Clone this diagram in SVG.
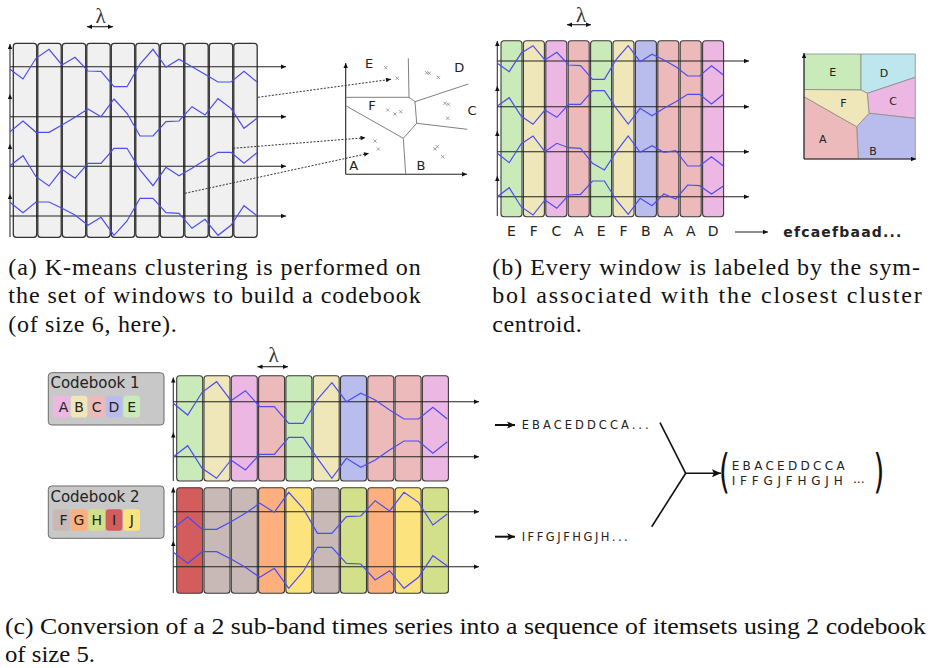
<svg xmlns="http://www.w3.org/2000/svg" xmlns:xlink="http://www.w3.org/1999/xlink" width="930" height="668" viewBox="0 0 930 668">
<style>
.win{stroke:#3a3a3a;stroke-width:1.1}
.wa{fill:#f0f0f0;stroke:#333;stroke-width:1.3}
.ser{fill:none;stroke:#4c4cf2;stroke-width:1.2}
.ax{stroke:#222;stroke-width:1.1;fill:none}
.axv{stroke:#333;stroke-width:1.1;fill:none}
.vor{stroke:#808080;stroke-width:1;fill:none}
.vreg{stroke:#8a8a8a;stroke-width:0.8}
.lab{font-family:"DejaVu Sans",sans-serif;fill:#222}
.lam{font-family:'Liberation Serif','DejaVu Serif',serif;font-size:21px;fill:#333;text-anchor:middle}
.cap{font-family:'Liberation Serif','Times New Roman',serif;font-size:24px;fill:#111}
.dot{stroke:#333;stroke-width:1;stroke-dasharray:2 1.5;fill:none}
.cb{fill:#c8c8c8;stroke:#6a6a6a;stroke-width:1}
.chip{stroke:none}
.gE{fill:#c9ebb9}.gF{fill:#efe6ba}.gC{fill:#ecb7e2}.gA{fill:#ecbaba}.gB{fill:#b9bdee}.gD{fill:#bde6ee}
.hF{fill:#c8b8b6}.hG{fill:#fdb07e}.hH{fill:#d3e08b}.hI{fill:#d35c5c}.hJ{fill:#fde37d}
</style>
<defs>
<marker id="ah" viewBox="0 0 10 10" refX="10" refY="5" markerWidth="6" markerHeight="5" markerUnits="userSpaceOnUse" orient="auto"><path d="M0,0.5 L10,5 L0,9.5 z" fill="#111"/></marker>
<marker id="ahs" viewBox="0 0 10 10" refX="10" refY="5" markerWidth="6" markerHeight="5" markerUnits="userSpaceOnUse" orient="auto-start-reverse"><path d="M0,0.5 L10,5 L0,9.5 z" fill="#111"/></marker>
<marker id="ahb" viewBox="0 0 10 10" refX="10" refY="5" markerWidth="12" markerHeight="9" markerUnits="userSpaceOnUse" orient="auto"><path d="M0,0.5 L10,5 L0,9.5 L2,5 z" fill="#111"/></marker>
<marker id="ahm" viewBox="0 0 10 10" refX="10" refY="5" markerWidth="10" markerHeight="8" markerUnits="userSpaceOnUse" orient="auto"><path d="M0,0.5 L10,5 L0,9.5 L2.5,5 z" fill="#111"/></marker>
<path id="cx" d="M-1.6,-1.6 L1.6,1.6 M1.6,-1.6 L-1.6,1.6" stroke="#8a8a8a" stroke-width="0.8" fill="none"/>
</defs>
<rect x="0" y="0" width="930" height="668" fill="#fff"/>

<!-- Panel (a) -->
<g id="panel-a">
  <text class="lam" x="100.5" y="22.5">λ</text>
  <line class="ax" x1="87" y1="26.7" x2="113" y2="26.7" marker-start="url(#ahs)" marker-end="url(#ahs)"/>
  <g id="a-windows">
    <rect class="wa" x="13.3" y="43.3" width="23.4" height="194" rx="3"/>
    <rect class="wa" x="37.8" y="43.3" width="23.4" height="194" rx="3"/>
    <rect class="wa" x="62.3" y="43.3" width="23.4" height="194" rx="3"/>
    <rect class="wa" x="86.8" y="43.3" width="23.4" height="194" rx="3"/>
    <rect class="wa" x="111.3" y="43.3" width="23.4" height="194" rx="3"/>
    <rect class="wa" x="135.8" y="43.3" width="23.4" height="194" rx="3"/>
    <rect class="wa" x="160.3" y="43.3" width="23.4" height="194" rx="3"/>
    <rect class="wa" x="184.8" y="43.3" width="23.4" height="194" rx="3"/>
    <rect class="wa" x="209.3" y="43.3" width="23.4" height="194" rx="3"/>
    <rect class="wa" x="233.8" y="43.3" width="23.4" height="194" rx="3"/>
  </g>
  <g id="a-axes">
    <line class="axv" x1="10" y1="94" x2="10" y2="44" marker-end="url(#ah)"/>
    <line class="axv" x1="10" y1="144" x2="10" y2="94" marker-end="url(#ah)"/>
    <line class="axv" x1="10" y1="194" x2="10" y2="144" marker-end="url(#ah)"/>
    <line class="axv" x1="10" y1="237" x2="10" y2="194" marker-end="url(#ah)"/>
    <line class="ax" x1="10" y1="66.7" x2="286" y2="66.7" marker-end="url(#ah)"/>
    <line class="ax" x1="10" y1="116.7" x2="286" y2="116.7" marker-end="url(#ah)"/>
    <line class="ax" x1="10" y1="166.3" x2="286" y2="166.3" marker-end="url(#ah)"/>
    <line class="ax" x1="10" y1="216" x2="286" y2="216" marker-end="url(#ah)"/>
  </g>
  <g id="a-series">
    <polyline class="ser" points="10,69.3 23,79 36,58.3 49,49.3 62,65 75,57.3 88,71 101,71.3 114,86.7 127,86.7 140,64 153,49.3 166,67.3 179,59.3 192,66.7 205,74.3 218,82 231,82 244,71.3 257,82"/>
    <polyline class="ser" points="10,131.7 23,121 36,132.3 49,132.3 62,125 75,117.3 88,109 101,116.7 114,99 127,113.3 140,136 153,136 166,121.7 179,121 192,106.7 205,115 218,98.7 231,108.3 244,128.3 257,118.3"/>
    <polyline class="ser" points="10,165.7 23,155.7 36,176.7 49,186 62,169.3 75,178.3 88,163.3 101,163.3 114,148.3 127,148.3 140,170 153,185.7 166,167.3 179,175.7 192,168.3 205,160 218,152.3 231,152.3 244,163.3 257,152.7"/>
    <polyline class="ser" points="10,202.3 23,212.7 36,202 49,202 62,208.3 75,215 88,225.3 101,217.3 114,235.3 127,221 140,198.3 153,198.3 166,212.7 179,213.3 192,228.3 205,219.3 218,235.3 231,225.3 244,205.7 257,215.7"/>
  </g>
</g>

<!-- Scatter / Voronoi (a) -->
<g id="scatter-a">
  <line class="ax" x1="345.7" y1="174.3" x2="345.7" y2="63" marker-end="url(#ah)"/>
  <line class="ax" x1="345.7" y1="174.3" x2="467" y2="174.3" marker-end="url(#ah)"/>
  <path class="vor" d="M345.7,97.3 L409,97.3 L408.3,58.3 M409,97.3 L415,101.7 L468.3,84 M415,101.7 L416.7,123.3 L467.3,129.3 M416.7,123.3 L403.3,138.3 L345.7,105.7 M403.3,138.3 L405.7,174.3"/>
  <g>
    <use href="#cx" x="385.7" y="67.7"/><use href="#cx" x="397.3" y="78.3"/>
    <use href="#cx" x="426.7" y="72.7"/><use href="#cx" x="429.3" y="73.3"/><use href="#cx" x="438.3" y="77.3"/>
    <use href="#cx" x="445" y="103.3"/><use href="#cx" x="448.3" y="104.3"/><use href="#cx" x="447.7" y="118.3"/>
    <use href="#cx" x="387.7" y="110"/><use href="#cx" x="395" y="114"/><use href="#cx" x="400.7" y="111.7"/>
    <use href="#cx" x="375" y="141"/><use href="#cx" x="378.3" y="149"/>
    <use href="#cx" x="435" y="149"/><use href="#cx" x="437.3" y="146.7"/><use href="#cx" x="442.7" y="156.7"/>
  </g>
  <g class="lab" font-size="13" text-anchor="middle">
    <text x="369" y="68">E</text>
    <text x="459.3" y="71.7">D</text>
    <text x="372" y="109.7">F</text>
    <text x="472" y="114.7">C</text>
    <text x="353.7" y="169.7">A</text>
    <text x="421" y="169.7">B</text>
  </g>
</g>

<!-- Panel (b) -->
<g id="panel-b">
  <text class="lam" x="581" y="21.5">λ</text>
  <line class="ax" x1="567" y1="24.7" x2="591" y2="24.7" marker-start="url(#ahs)" marker-end="url(#ahs)"/>
  <g id="b-windows">
    <rect class="win gE" x="501" y="40.7" width="21" height="176" rx="3"/>
    <rect class="win gF" x="523.4" y="40.7" width="21" height="176" rx="3"/>
    <rect class="win gC" x="545.8" y="40.7" width="21" height="176" rx="3"/>
    <rect class="win gA" x="568.2" y="40.7" width="21" height="176" rx="3"/>
    <rect class="win gE" x="590.6" y="40.7" width="21" height="176" rx="3"/>
    <rect class="win gF" x="613" y="40.7" width="21" height="176" rx="3"/>
    <rect class="win gB" x="635.4" y="40.7" width="21" height="176" rx="3"/>
    <rect class="win gA" x="657.8" y="40.7" width="21" height="176" rx="3"/>
    <rect class="win gA" x="680.2" y="40.7" width="21" height="176" rx="3"/>
    <rect class="win gC" x="702.6" y="40.7" width="21" height="176" rx="3"/>
  </g>
  <g id="b-axes">
    <line class="axv" x1="497.3" y1="87" x2="497.3" y2="41" marker-end="url(#ah)"/>
    <line class="axv" x1="497.3" y1="132" x2="497.3" y2="86" marker-end="url(#ah)"/>
    <line class="axv" x1="497.3" y1="177" x2="497.3" y2="131" marker-end="url(#ah)"/>
    <line class="axv" x1="497.3" y1="216" x2="497.3" y2="176" marker-end="url(#ah)"/>
    <line class="ax" x1="497.3" y1="61" x2="749" y2="61" marker-end="url(#ah)"/>
    <line class="ax" x1="497.3" y1="106.7" x2="749" y2="106.7" marker-end="url(#ah)"/>
    <line class="ax" x1="497.3" y1="151.7" x2="749" y2="151.7" marker-end="url(#ah)"/>
    <line class="ax" x1="497.3" y1="196.7" x2="749" y2="196.7" marker-end="url(#ah)"/>
  </g>
  <g id="b-series">
    <polyline class="ser" points="497.3,63.3 509.2,71.7 521.1,53.3 533,45.7 544.9,60 556.8,52.3 568.7,65 580.6,65.7 592.5,79.3 604.4,79.3 616.3,59.3 628.2,45.7 640.1,61.7 652,54.3 663.9,60 675.8,66.7 687.7,76 699.6,76 711.5,65.7 723.4,75"/>
    <polyline class="ser" points="497.3,106 509.2,97.7 521.1,116 533,124.3 544.9,110 556.8,117.3 568.7,104.3 580.6,104.3 592.5,90.7 604.4,90.7 616.3,108.3 628.2,124 640.1,108.3 652,115.7 663.9,108.3 675.8,101.7 687.7,94.3 699.6,94.3 711.5,104 723.4,94.3"/>
    <polyline class="ser" points="497.3,153.3 509.2,162.7 521.1,144 533,136 544.9,151.7 556.8,143.3 568.7,147.7 580.6,148.3 592.5,163.3 604.4,170 616.3,151.7 628.2,136 640.1,152.3 652,145.7 663.9,152.3 675.8,150.7 687.7,166 699.6,166 711.5,156.7 723.4,166"/>
    <polyline class="ser" points="497.3,196.7 509.2,187.7 521.1,206.7 533,215 544.9,200 556.8,208.3 568.7,195 580.6,194.3 592.5,181 604.4,181 616.3,200 628.2,214.3 640.1,198.3 652,205.7 663.9,194 675.8,199 687.7,185 699.6,185.7 711.5,194 723.4,186"/>
  </g>
  <g class="lab" font-size="14" text-anchor="middle">
    <text x="511.5" y="236">E</text>
    <text x="533.9" y="236">F</text>
    <text x="556.3" y="236">C</text>
    <text x="578.7" y="236">A</text>
    <text x="601.1" y="236">E</text>
    <text x="623.5" y="236">F</text>
    <text x="645.9" y="236">B</text>
    <text x="668.3" y="236">A</text>
    <text x="690.7" y="236">A</text>
    <text x="713.1" y="236">D</text>
  </g>
  <line class="ax" x1="735" y1="232" x2="768" y2="232" marker-end="url(#ah)"/>
  <text class="lab" x="783.3" y="237.3" font-size="14" font-weight="bold" textLength="118" fill="#111">efcaefbaad...</text>
</g>

<!-- Colored Voronoi (b) -->
<g id="voronoi-b">
  <polygon class="vreg gE" points="804,54 861,54 861,90 804,89.5"/>
  <polygon class="vreg gD" points="861,54 915.3,54 915.3,77.3 867.3,93.3 861,90"/>
  <polygon class="vreg gC" points="867.3,93.3 915.3,77.3 915.3,118.3 869,113.3"/>
  <polygon class="vreg gB" points="869,113.3 915.3,118.3 915.3,159 858.3,159 856.7,126.7"/>
  <polygon class="vreg gA" points="804,96.7 856.7,126.7 858.3,159 804,159"/>
  <polygon class="vreg gF" points="804,89.5 861,90 867.3,93.3 869,113.3 856.7,126.7 804,96.7"/>
  <line class="ax" x1="804" y1="159" x2="804" y2="53" marker-end="url(#ah)"/>
  <line class="ax" x1="804" y1="159" x2="916" y2="159" marker-end="url(#ah)"/>
  <g class="lab" font-size="11" text-anchor="middle">
    <text x="832.7" y="75.7">E</text>
    <text x="884" y="76.7">D</text>
    <text x="843.3" y="107">F</text>
    <text x="893" y="105">C</text>
    <text x="822.7" y="143">A</text>
    <text x="873" y="155">B</text>
  </g>
</g>

<!-- Panel (c) -->
<g id="panel-c">
  <text class="lam" x="273.5" y="361.5">λ</text>
  <line class="ax" x1="257.5" y1="366.7" x2="288" y2="366.7" marker-start="url(#ahs)" marker-end="url(#ahs)"/>
  <g id="codebook1">
    <rect class="cb" x="48.3" y="372.7" width="115.7" height="52.3" rx="3.5"/>
    <text class="lab" x="50.5" y="388.3" font-size="15" textLength="89">Codebook 1</text>
    <rect class="chip gC" x="52.7" y="395.7" width="17.3" height="21.7" rx="3"/>
    <rect class="chip gF" x="70.7" y="395.7" width="16.7" height="21.7" rx="3"/>
    <rect class="chip gA" x="88.3" y="395.7" width="16.7" height="21.7" rx="3"/>
    <rect class="chip gB" x="105.7" y="395.7" width="16.7" height="21.7" rx="3"/>
    <rect class="chip gE" x="123.3" y="395.7" width="16.7" height="21.7" rx="3"/>
    <g class="lab" font-size="14" text-anchor="middle">
      <text x="63.5" y="411.5">A</text><text x="79" y="411.5">B</text><text x="96.7" y="411.5">C</text><text x="114" y="411.5">D</text><text x="131.7" y="411.5">E</text>
    </g>
  </g>
  <g id="codebook2">
    <rect class="cb" x="48.3" y="486" width="115.7" height="52.3" rx="3.5"/>
    <text class="lab" x="50.5" y="501.7" font-size="15" textLength="89">Codebook 2</text>
    <rect class="chip hF" x="52.7" y="509.3" width="17.3" height="21.4" rx="3"/>
    <rect class="chip hG" x="70.7" y="509.3" width="16.7" height="21.4" rx="3"/>
    <rect class="chip hH" x="88.3" y="509.3" width="16.7" height="21.4" rx="3"/>
    <rect class="chip hI" x="105.7" y="509.3" width="16.7" height="21.4" rx="3"/>
    <rect class="chip hJ" x="123.3" y="509.3" width="16.7" height="21.4" rx="3"/>
    <g class="lab" font-size="14" text-anchor="middle">
      <text x="63.5" y="525">F</text><text x="79" y="525">G</text><text x="96.7" y="525">H</text><text x="114" y="525">I</text><text x="131.7" y="525">J</text>
    </g>
  </g>
  <g id="c-windows-1">
    <rect class="win gE" x="176.7" y="375.7" width="26" height="105.3" rx="3"/>
    <rect class="win gF" x="204" y="375.7" width="26" height="105.3" rx="3"/>
    <rect class="win gC" x="231.3" y="375.7" width="26" height="105.3" rx="3"/>
    <rect class="win gA" x="258.6" y="375.7" width="26" height="105.3" rx="3"/>
    <rect class="win gE" x="285.9" y="375.7" width="26" height="105.3" rx="3"/>
    <rect class="win gF" x="313.2" y="375.7" width="26" height="105.3" rx="3"/>
    <rect class="win gB" x="340.5" y="375.7" width="26" height="105.3" rx="3"/>
    <rect class="win gA" x="367.8" y="375.7" width="26" height="105.3" rx="3"/>
    <rect class="win gA" x="395.1" y="375.7" width="26" height="105.3" rx="3"/>
    <rect class="win gC" x="422.4" y="375.7" width="26" height="105.3" rx="3"/>
  </g>
  <g id="c-windows-2">
    <rect class="win hI" x="176.7" y="487.7" width="26" height="105.6" rx="3"/>
    <rect class="win hF" x="204" y="487.7" width="26" height="105.6" rx="3"/>
    <rect class="win hF" x="231.3" y="487.7" width="26" height="105.6" rx="3"/>
    <rect class="win hG" x="258.6" y="487.7" width="26" height="105.6" rx="3"/>
    <rect class="win hJ" x="285.9" y="487.7" width="26" height="105.6" rx="3"/>
    <rect class="win hF" x="313.2" y="487.7" width="26" height="105.6" rx="3"/>
    <rect class="win hH" x="340.5" y="487.7" width="26" height="105.6" rx="3"/>
    <rect class="win hG" x="367.8" y="487.7" width="26" height="105.6" rx="3"/>
    <rect class="win hJ" x="395.1" y="487.7" width="26" height="105.6" rx="3"/>
    <rect class="win hH" x="422.4" y="487.7" width="26" height="105.6" rx="3"/>
  </g>
  <g id="c-axes">
    <line class="axv" x1="173.3" y1="433" x2="173.3" y2="377.5" marker-end="url(#ah)"/>
    <line class="axv" x1="173.3" y1="481" x2="173.3" y2="432.5" marker-end="url(#ah)"/>
    <line class="axv" x1="173.3" y1="541" x2="173.3" y2="487.5" marker-end="url(#ah)"/>
    <line class="axv" x1="173.3" y1="593" x2="173.3" y2="541" marker-end="url(#ah)"/>
    <line class="ax" x1="173.3" y1="401.7" x2="479" y2="401.7" marker-end="url(#ah)"/>
    <line class="ax" x1="173.3" y1="456.7" x2="479" y2="456.7" marker-end="url(#ah)"/>
    <line class="ax" x1="173.3" y1="511.7" x2="479" y2="511.7" marker-end="url(#ah)"/>
    <line class="ax" x1="173.3" y1="566.7" x2="479" y2="566.7" marker-end="url(#ah)"/>
  </g>
  <g id="c-series">
    <polyline class="ser" points="173.3,403.3 187.7,415 202.1,392.3 216.6,381.7 231,400.7 245.4,390.7 259.8,406.7 274.3,406.7 288.7,423.3 303.1,423.3 317.5,399.3 331.9,382.7 346.4,401.7 360.8,393.3 375.2,400 389.6,410 404,419 418.5,419 432.9,407.3 447.3,419"/>
    <polyline class="ser" points="173.3,456.7 187.7,445.7 202.1,468.3 216.6,478.3 231,460 245.4,470 259.8,454.3 274.3,454.3 288.7,437.3 303.1,437.3 317.5,458.3 331.9,478.3 346.4,458.3 360.8,467.3 375.2,460 389.6,450 404,441 418.5,441 432.9,453.3 447.3,441.7"/>
    <polyline class="ser" points="173.3,528.3 187.7,516.7 202.1,529.3 216.6,529.3 231,521.7 245.4,513.3 259.8,503.3 274.3,512.3 288.7,492.3 303.1,508.3 317.5,533.3 331.9,533.3 346.4,516.7 360.8,516 375.2,500.7 389.6,511 404,492.3 418.5,502.3 432.9,525 447.3,514"/>
    <polyline class="ser" points="173.3,552.3 187.7,563.3 202.1,551.7 216.6,551.7 231,559 245.4,567.3 259.8,577.3 274.3,568.3 288.7,588.3 303.1,571.7 317.5,547.3 331.9,547.3 346.4,563.3 360.8,564 375.2,580 389.6,570.7 404,588.3 418.5,577.3 432.9,555.7 447.3,566"/>
  </g>
  <g id="c-sequences">
    <line stroke="#111" stroke-width="2" x1="495" y1="425" x2="515" y2="425" marker-end="url(#ahm)"/>
    <text class="lab" x="521.7" y="429.3" font-size="11.5" textLength="127" fill="#333">EBACEDDCCA...</text>
    <line stroke="#111" stroke-width="2" x1="495" y1="536.7" x2="515" y2="536.7" marker-end="url(#ahm)"/>
    <text class="lab" x="521.7" y="541" font-size="11.5" textLength="106" fill="#333">IFFGJFHGJH...</text>
  </g>
  <g id="itemsets">
    <text x="724.5" y="487" font-family="DejaVu Sans, sans-serif" font-size="46" text-anchor="middle" fill="#111" transform="translate(724.5,0) scale(0.6,1) translate(-724.5,0)">(</text>
    <text x="879" y="487" font-family="DejaVu Sans, sans-serif" font-size="46" text-anchor="middle" fill="#111" transform="translate(879,0) scale(0.6,1) translate(-879,0)">)</text>
    <text class="lab" x="731.7" y="470" font-size="12" textLength="113" fill="#333">EBACEDDCCA</text>
    <text class="lab" x="731.7" y="485" font-size="12" textLength="111" fill="#333">IFFGJFHGJH</text>
    <text class="lab" x="853" y="482.5" font-size="12" fill="#333">...</text>
  </g>
</g>

<!-- Connectors -->
<g id="connectors">
  <line class="dot" x1="258" y1="97.3" x2="391" y2="79.3" marker-end="url(#ah)"/>
  <line class="dot" x1="233.3" y1="148.3" x2="365.5" y2="137.7" marker-end="url(#ah)"/>
  <line class="dot" x1="185" y1="193.3" x2="369" y2="153.3" marker-end="url(#ah)"/>
  <line stroke="#111" stroke-width="1.6" x1="660" y1="422.7" x2="685.7" y2="473.3"/>
  <line stroke="#111" stroke-width="1.6" x1="651.7" y1="526.7" x2="685.7" y2="473.3"/>
  <line stroke="#111" stroke-width="1.6" x1="685.7" y1="473.3" x2="721" y2="473.3" marker-end="url(#ahb)"/>
</g>

<!-- Captions -->
<g id="captions">
  <text class="cap" x="8.3" y="274.5" textLength="412.4">(a) K-means clustering is performed on</text>
  <text class="cap" x="8.3" y="303.3" textLength="412.4">the set of windows to build a codebook</text>
  <text class="cap" x="8.3" y="332" textLength="168.4">(of size 6, here).</text>
  <text class="cap" x="492.3" y="274.5" textLength="427.7">(b) Every window is labeled by the sym-</text>
  <text class="cap" x="492.3" y="303.3" textLength="429.4">bol associated with the closest cluster</text>
  <text class="cap" x="492.3" y="332" textLength="89.4">centroid.</text>
  <text class="cap" x="5" y="633.5" textLength="921" lengthAdjust="spacingAndGlyphs">(c) Conversion of a 2 sub-band times series into a sequence of itemsets using 2 codebook</text>
  <text class="cap" x="5" y="662" textLength="90" lengthAdjust="spacingAndGlyphs">of size 5.</text>
</g>
</svg>
